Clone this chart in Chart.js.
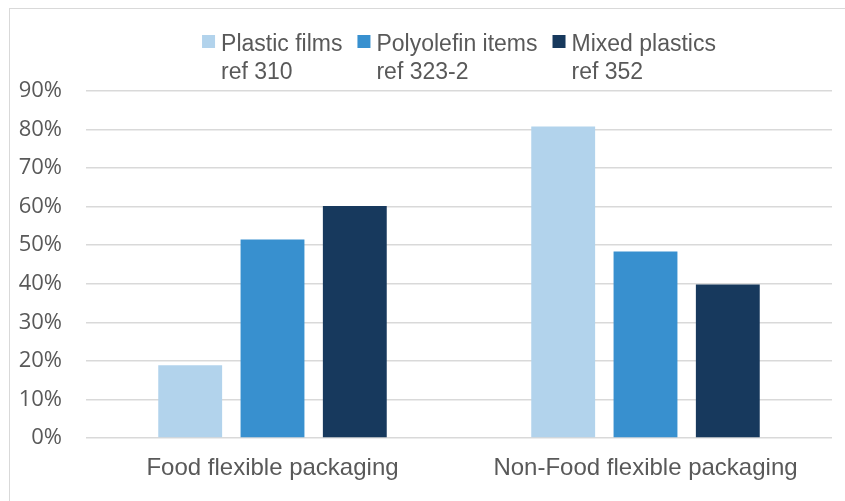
<!DOCTYPE html>
<html>
<head>
<meta charset="utf-8">
<script src="https://cdn.jsdelivr.net/npm/chart.js@4/dist/chart.umd.min.js"></script>
<style>
  html, body { margin: 0; padding: 0; background: #fff; overflow: hidden; }
  #wrap { position: relative; width: 845px; height: 501px; overflow: hidden; }
  #frame { position: absolute; left: 9px; top: 8px; width: 900px; height: 600px; border: 1px solid #d9d9d9; }
  #mainCanvas { position: absolute; left: 0; top: 0; }
</style>
</head>
<body>
<div id="wrap">
  <div id="frame"></div>
  <canvas id="mainCanvas" width="845" height="501"></canvas>
</div>
<script>
var categories = ['Food flexible packaging', 'Non-Food flexible packaging'];
var plasticFilms = [18.9, 80.8];
var polyolefinItems = [51.5, 48.4];
var mixedPlastics = [60.2, 39.8];
var seriesNames = [
  ['Plastic films', 'ref 310'],
  ['Polyolefin items', 'ref 323-2'],
  ['Mixed plastics', 'ref 352']
];
var seriesColors = ['#B2D3EC', '#3890CF', '#17395D'];

// two-line legend over the plot, box next to the first line
var topLegend = {
  id: 'topLegend',
  afterDraw: function(chart) {
    var ctx = chart.ctx;
    var area = chart.chartArea;
    var box = 13, gap = 6, spacing = 15;
    ctx.save();
    ctx.font = '23px "Liberation Sans", Arial, sans-serif';
    var widths = chart.data.datasets.map(function(ds) {
      return Math.max.apply(null, ds.label.map(function(t) { return ctx.measureText(t).width; }));
    });
    var total = 0;
    widths.forEach(function(w, i) { total += box + gap + w + (i < widths.length - 1 ? spacing : 0); });
    var x = (area.left + area.right) / 2 - total / 2;
    chart.data.datasets.forEach(function(ds, i) {
      ctx.fillStyle = ds.backgroundColor;
      ctx.fillRect(x, 35, box, box);
      ctx.fillStyle = '#595959';
      ctx.textBaseline = 'alphabetic';
      ctx.textAlign = 'left';
      ds.label.forEach(function(line, j) {
        ctx.fillText(line, x + box + gap, 51 + j * 28);
      });
      x += box + gap + widths[i] + spacing;
    });
    ctx.restore();
  }
};

var ctx = document.getElementById('mainCanvas').getContext('2d');
var sChart = new Chart(ctx, {
  type: 'bar',
  data: {
    labels: categories,
    datasets: [
      { label: seriesNames[0], data: plasticFilms, backgroundColor: seriesColors[0] },
      { label: seriesNames[1], data: polyolefinItems, backgroundColor: seriesColors[1] },
      { label: seriesNames[2], data: mixedPlastics, backgroundColor: seriesColors[2] }
    ]
  },
  options: {
    responsive: false,
    maintainAspectRatio: false,
    animation: false,
    categoryPercentage: 0.662,
    barPercentage: 0.776,
    layout: { padding: { left: 10, right: 13, top: 91, bottom: 0 } },
    plugins: {
      legend: { display: false },
      tooltip: { enabled: false }
    },
    scales: {
      x: {
        afterFit: function(scale) { scale.height = 63; },
        grid: { display: false },
        border: { display: false },
        ticks: {
          color: '#595959',
          padding: 8,
          font: { family: '"Liberation Sans", Arial, sans-serif', size: 24 }
        }
      },
      y: {
        min: 0,
        max: 90,
        afterFit: function(scale) { scale.width = 76; },
        border: { display: false },
        grid: { color: '#d9d9d9', lineWidth: 1.6, drawTicks: false },
        ticks: {
          stepSize: 10,
          padding: 24,
          color: '#595959',
          font: { family: '"Open Sans", sans-serif', size: 22 },
          callback: function(v) { return v + '%'; }
        }
      }
    }
  },
  plugins: [topLegend]
});
</script>
</body>
</html>
